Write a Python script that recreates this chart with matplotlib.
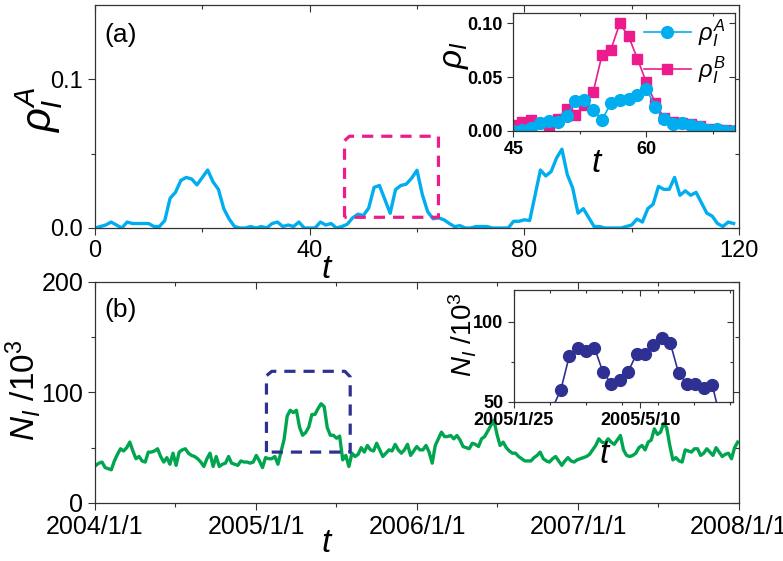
import numpy as np
import pandas as pd
import matplotlib
matplotlib.use("Agg")
import matplotlib.pyplot as plt
import matplotlib.dates as mdates
from matplotlib.ticker import MultipleLocator, FixedLocator, FuncFormatter

plt.rcParams['font.family'] = ['Liberation Sans', 'DejaVu Sans']
plt.rcParams['mathtext.fontset'] = 'custom'
plt.rcParams['mathtext.rm'] = 'Liberation Sans'
plt.rcParams['mathtext.it'] = 'Liberation Sans:italic'
plt.rcParams['mathtext.bf'] = 'Liberation Sans:bold'

# ---- data ----
# panel (a): rho_I^A, t = 0..119
rho_a = [0.000, 0.001, 0.002, 0.004, 0.002, 0.000, 0.004, 0.003, 0.003, 0.003,
         0.003, 0.001, 0.001, 0.005, 0.020, 0.024, 0.032, 0.034, 0.033, 0.029,
         0.034, 0.039, 0.031, 0.026, 0.013, 0.006, 0.001, 0.000, 0.000, 0.001,
         0.000, 0.001, 0.000, 0.003, 0.004, 0.001, 0.002, 0.001, 0.004, 0.000,
         0.000, 0.000, 0.004, 0.002, 0.003,
         0.000, 0.001, 0.0025, 0.0068, 0.0093, 0.0084, 0.0134, 0.0273, 0.0286, 0.0193,
         0.0099, 0.0258, 0.0286, 0.0295, 0.0335, 0.0388, 0.0224, 0.0109, 0.0062, 0.0068,
         0.0056, 0.0031, 0.0009, 0.0016, 0.000, 0.000,
         0.001, 0.001, 0.001, 0.000, 0.000, 0.000, 0.000, 0.0045, 0.0045,
         0.0055, 0.005, 0.022, 0.039, 0.035, 0.038, 0.047, 0.053, 0.036, 0.027,
         0.010, 0.013, 0.007, 0.001, 0.001, 0.000, 0.000, 0.000, 0.000, 0.001,
         0.002, 0.006, 0.004, 0.013, 0.016, 0.028, 0.026, 0.026, 0.034, 0.022,
         0.025, 0.022, 0.024, 0.017, 0.010, 0.008, 0.003, 0.001, 0.004, 0.003]
t_a = np.arange(len(rho_a))

# inset (a): window t = 45..70, rho_I^B
rho_b_win = [0.005, 0.008, 0.010, 0.007, 0.0025, 0.011, 0.020, 0.015, 0.024, 0.036,
             0.0705, 0.0755, 0.100, 0.088, 0.067, 0.045, 0.026, 0.012, 0.0085, 0.007,
             0.006, 0.004, 0.002, 0.001, 0.0005, 0.000]
t_win = np.arange(45, 45 + len(rho_b_win))
rho_a_win = np.array(rho_a)[45:45 + len(rho_b_win)]

# panel (b): weekly N_I / 10^3, 2004 - 2007
n_i = [34, 36, 37, 32, 31, 30, 38, 44, 49, 47,
       50, 55, 47, 40, 42, 38, 37, 46, 46, 47,
       49, 42, 37, 41, 35, 45, 34, 46, 48, 49,
       45, 43, 42, 40, 37, 33, 40, 45, 33, 42,
       33, 35, 36, 42, 36, 35, 34, 38, 37, 37,
       36, 37, 43, 38, 32, 41, 40, 40, 42, 35,
       46, 57.4, 78.5, 83.8, 81.7, 83.8, 68.6, 61.2, 63.7, 68.6,
       80, 80, 85.3, 89.7, 87, 68, 61.2, 61.2, 58.5, 60.5,
       39, 43, 33, 45, 42, 44, 50, 46, 52, 48,
       47, 54, 48, 42, 45, 48, 47, 53, 48, 45,
       48, 53, 43, 47, 51, 48, 48, 52, 46, 36,
       52, 58, 64, 60, 60, 61, 58, 61, 57, 51,
       50, 49, 54, 53, 51, 58, 60, 65, 70, 75,
       62, 52, 55, 50, 47, 45, 45, 42, 40, 38,
       38, 38, 41, 43, 46, 40, 38, 37, 40, 42,
       38, 34, 38, 41, 38, 37, 39, 40, 41, 42,
       44, 48, 52, 58, 55, 54, 58, 55, 53, 57,
       61, 48, 43, 42, 43, 45, 50, 52, 48, 55,
       57, 67, 62, 64, 72, 68, 52, 39, 41, 38,
       37, 48, 47, 46, 49, 49, 43, 45, 49, 46,
       43, 50, 46, 42, 44, 45, 40, 50, 55]
weeks = pd.date_range('2004-01-03', periods=len(n_i), freq='7D')

# windows shown in the insets / dashed boxes
box_a = (46.5, 64.0, 0.0072, 0.0617)
inset_b_start, inset_b_end = pd.Timestamp('2005-01-25'), pd.Timestamp('2005-07-26')
box_b = (pd.Timestamp('2005-01-24'), pd.Timestamp('2005-08-02'), 46, 119)

cyan = '#00AEEF'
magenta = '#EC1C8C'
navy = '#2E3192'
green = '#00A54F'
spine_c = '#333333'


def date_fmt(v, p):
    d = mdates.num2date(v)
    return f"{d.year}/{d.month}/{d.day}"


def finish_axes(ax, size, major_len, minor_len, bold=False):
    ax.tick_params(which='both', direction='out', labelsize=size, color=spine_c, width=0.8)
    ax.tick_params(which='major', length=major_len)
    ax.tick_params(which='minor', length=minor_len)
    for s in ax.spines.values():
        s.set_linewidth(0.9)
        s.set_color(spine_c)
    if bold:
        for lab in ax.get_xticklabels() + ax.get_yticklabels():
            lab.set_fontweight('bold')
    # inward ticks mirrored on top and right, no labels
    sx = ax.secondary_xaxis('top')
    sx.xaxis.set_major_locator(FixedLocator(ax.xaxis.get_majorticklocs()))
    sx.xaxis.set_minor_locator(FixedLocator(ax.xaxis.get_minorticklocs()))
    sy = ax.secondary_yaxis('right')
    sy.yaxis.set_major_locator(FixedLocator(ax.yaxis.get_majorticklocs()))
    sy.yaxis.set_minor_locator(FixedLocator(ax.yaxis.get_minorticklocs()))
    for sec in (sx, sy):
        sec.tick_params(which='both', direction='in', color=spine_c, width=0.8,
                        labeltop=False, labelright=False)
        sec.tick_params(which='major', length=major_len)
        sec.tick_params(which='minor', length=minor_len)
        for s in sec.spines.values():
            s.set_visible(False)


fig = plt.figure(figsize=(7.83, 5.61), dpi=100)

# ---------- panel (a) ----------
ax1 = fig.add_axes([0.1213, 0.5936, 0.8225, 0.3975])
ax1.plot(t_a, rho_a, color=cyan, lw=2.4)
ax1.set_xlim(0, 120)
ax1.set_ylim(0, 0.15)
ax1.xaxis.set_major_locator(MultipleLocator(40))
ax1.xaxis.set_minor_locator(MultipleLocator(20))
ax1.yaxis.set_major_locator(FixedLocator([0.0, 0.1]))
ax1.yaxis.set_minor_locator(FixedLocator([0.05]))
ax1.yaxis.set_major_formatter(FuncFormatter(lambda v, p: f"{v:.1f}"))
finish_axes(ax1, 17, 5, 3)
ax1.set_xlabel('$t$', fontsize=24)
ax1.xaxis.set_label_coords(0.36, -0.115)
ax1.set_ylabel(r'$\rho_I^A$', fontsize=30)
ax1.yaxis.set_label_coords(-0.046, 0.53)
ax1.text(0.015, 0.865, '(a)', transform=ax1.transAxes, fontsize=19, va='center')

x0, x1, y0, y1 = box_a
ax1.plot([x0, x0, x0 + 0.9, x1, x1, x0], [y0, y1 - 0.003, y1, y1, y0, y0],
         color=magenta, lw=2.3, ls=(0, (3.5, 2.5)))

# inset (a)
ins1 = fig.add_axes([0.6556, 0.767, 0.2831, 0.2103])
ins1.plot(t_win, rho_b_win, color=magenta, lw=1.2, marker='s', ms=7.5, label=r'$\rho_I^B$')
ins1.plot(t_win, rho_a_win, color=cyan, lw=1.2, marker='o', ms=8.5, label=r'$\rho_I^A$')
ins1.set_xlim(45, 70)
ins1.set_ylim(0, 0.11)
ins1.xaxis.set_major_locator(FixedLocator([45, 60]))
ins1.xaxis.set_minor_locator(FixedLocator([52.5, 67.5]))
ins1.yaxis.set_major_locator(FixedLocator([0.0, 0.05, 0.10]))
ins1.yaxis.set_major_formatter(FuncFormatter(lambda v, p: f"{v:.2f}"))
finish_axes(ins1, 13, 4, 2.5, bold=True)
ins1.set_ylabel(r'$\rho_I$', fontsize=24)
ins1.yaxis.set_label_coords(-0.19, 0.64)
ins1.set_xlabel('$t$', fontsize=24)
ins1.xaxis.set_label_coords(0.38, -0.15)
h, l = ins1.get_legend_handles_labels()
ins1.legend(h[::-1], l[::-1], loc='upper right', frameon=False, fontsize=17,
            handlelength=2.0, borderaxespad=0.0, labelspacing=0.2, handletextpad=0.3,
            bbox_to_anchor=(1.0, 1.04))

# ---------- panel (b) ----------
ax2 = fig.add_axes([0.1213, 0.1034, 0.8225, 0.3945])
ax2.plot(weeks, n_i, color=green, lw=2.4)
ax2.set_xlim(pd.Timestamp('2004-01-01'), pd.Timestamp('2008-01-01'))
ax2.set_ylim(0, 200)
ax2.xaxis.set_major_locator(mdates.YearLocator())
ax2.xaxis.set_minor_locator(mdates.MonthLocator(bymonth=7))
ax2.xaxis.set_major_formatter(FuncFormatter(date_fmt))
ax2.yaxis.set_major_locator(MultipleLocator(100))
ax2.yaxis.set_minor_locator(MultipleLocator(50))
finish_axes(ax2, 18, 5, 3)
ax2.set_xlabel('$t$', fontsize=24)
ax2.xaxis.set_label_coords(0.36, -0.115)
ax2.set_ylabel('$N_I$ /10$^3$', fontsize=24)
ax2.yaxis.set_label_coords(-0.08, 0.51)
ax2.text(0.015, 0.873, '(b)', transform=ax2.transAxes, fontsize=19, va='center')

bx0, bx1, by0, by1 = box_b
bx0n, bx1n = mdates.date2num(bx0), mdates.date2num(bx1)
ax2.plot([bx0n, bx0n, bx0n + 12, bx1n - 12, bx1n, bx1n, bx0n],
         [by0, by1 - 4, by1, by1, by1 - 5, by0, by0],
         color=navy, lw=2.3, ls=(0, (3.5, 2.5)))

# inset (b)
ins2 = fig.add_axes([0.6564, 0.284, 0.2793, 0.199])
ins2.plot(weeks, n_i, color=navy, lw=1.2, marker='o', ms=8.5)
ins2.set_xlim(inset_b_start, inset_b_end)
ins2.set_ylim(50, 120)
ins2.xaxis.set_major_locator(FixedLocator(
    mdates.date2num([pd.Timestamp('2005-01-25'), pd.Timestamp('2005-05-10')])))
ins2.xaxis.set_minor_locator(FixedLocator(
    mdates.date2num(pd.date_range('2005-01-25', '2005-07-26', freq='30D'))))
ins2.xaxis.set_major_formatter(FuncFormatter(date_fmt))
ins2.yaxis.set_major_locator(MultipleLocator(50))
ins2.yaxis.set_minor_locator(MultipleLocator(25))
finish_axes(ins2, 13, 4, 2.5, bold=True)
ins2.set_ylabel('$N_I$ /10$^3$', fontsize=20)
ins2.yaxis.set_label_coords(-0.16, 0.6)
ins2.set_xlabel('$t$', fontsize=24)
ins2.xaxis.set_label_coords(0.416, -0.33)

fig.savefig('out.png', dpi=100)
